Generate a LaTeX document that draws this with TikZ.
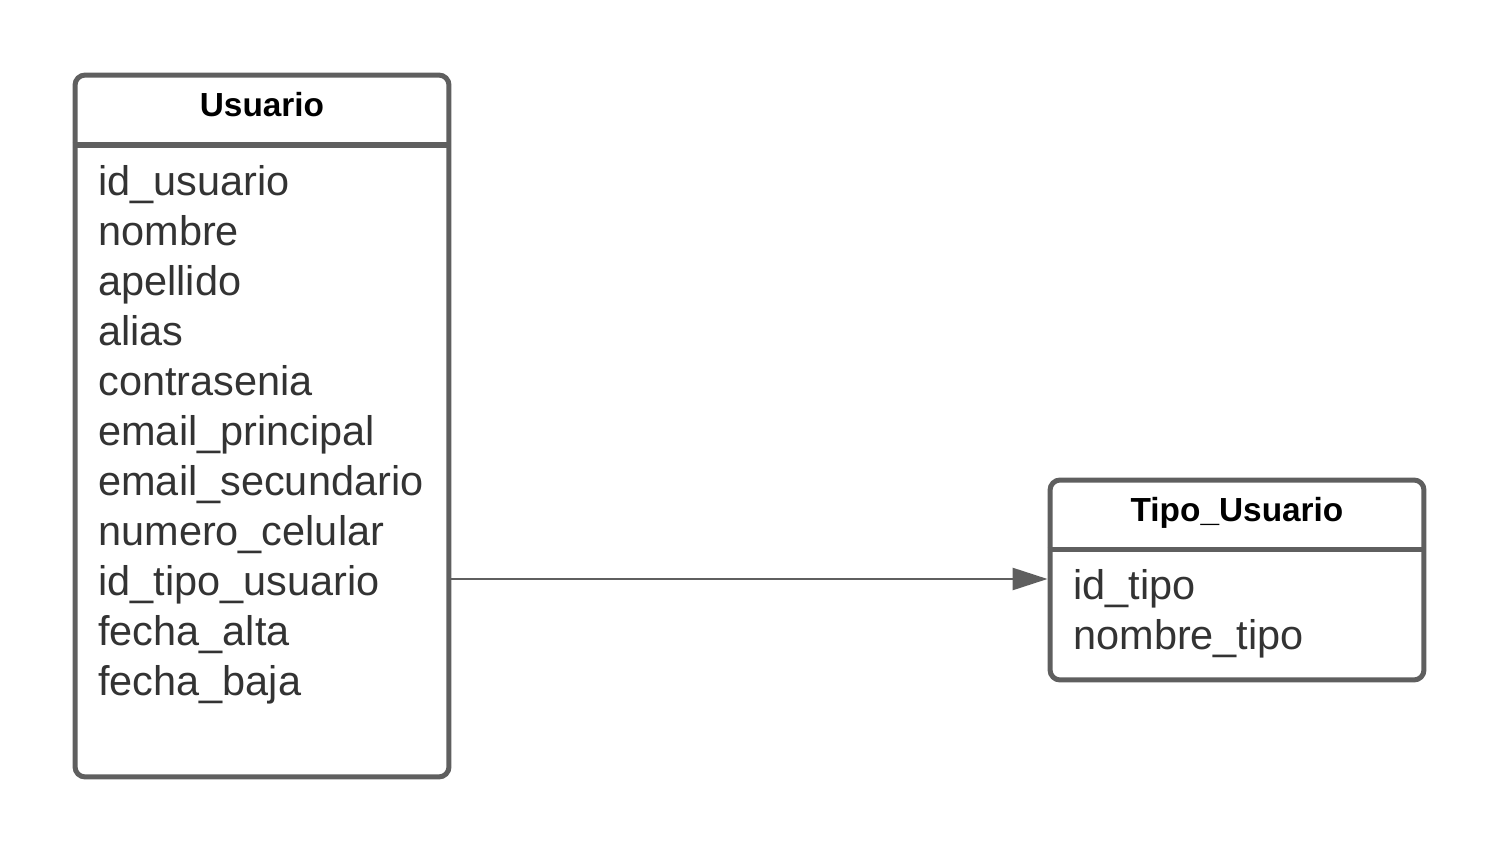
\documentclass[tikz,border=0pt]{standalone}
\usepackage{fontspec}
\setmainfont{Liberation Sans}
\usetikzlibrary{arrows.meta}
\definecolor{linegray}{HTML}{5F5F5F}
\definecolor{textgray}{HTML}{333333}
\begin{document}
\begin{tikzpicture}[x=0.02cm,y=-0.02cm,
  entity/.style={draw=linegray,line width=2.85pt,rounded corners=0.2cm,inner sep=0pt,minimum width=7.48cm},
  title/.style={anchor=base,font=\fontsize{19}{23}\selectfont\bfseries,text=black},
  field/.style={anchor=base west,inner sep=0pt,font=\fontsize{23.6}{28}\selectfont,text=textgray}]
\useasboundingbox (0,0) rectangle (1500,851);
\node[entity,minimum height=14.04cm] (usuario) at (262,426) {};
\node[entity,minimum height=4cm] (tipo) at (1237,580) {};
\draw[linegray,line width=2.85pt] (usuario.west |- 0,145) -- (usuario.east |- 0,145);
\draw[linegray,line width=2.85pt] (tipo.west |- 0,549) -- (tipo.east |- 0,549);
\node[title] (usuariotitle) at (262,117) {Usuario};
\node[title] (tipotitle) at (1237,521) {Tipo\_Usuario};
\foreach \name [count=\i from 0] in {id\_usuario,nombre,apellido,alias,contrasenia,email\_principal,email\_secundario,numero\_celular,id\_tipo\_usuario,fecha\_alta,fecha\_baja}
  \node[field] (u\i) at (98,195+50*\i) {\name};
\node[field] (t0) at (1073,599) {id\_tipo};
\node[field] (t1) at (1073,649) {nombre\_tipo};
\coordinate (fk) at (0,579);
\draw[linegray,line width=1.5pt,-{Triangle[length=0.7cm,width=0.44cm]}] (usuario.east |- fk) -- (tipo.west |- fk);
\end{tikzpicture}
\end{document}
